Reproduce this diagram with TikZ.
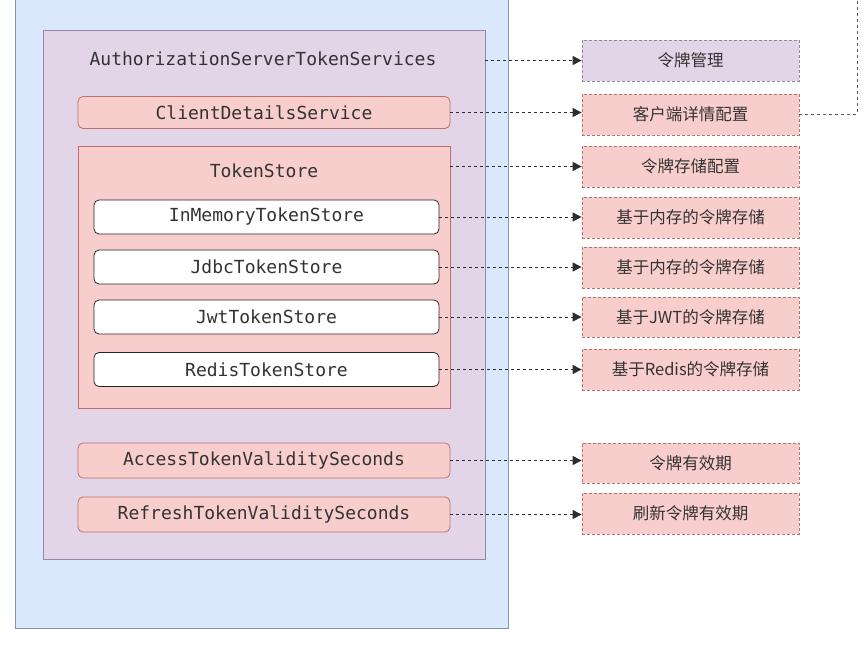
\documentclass[tikz,border=0pt]{standalone}
\usepackage{fontspec}
\newfontfamily\codefont{DejaVu Sans Mono}
\newfontfamily\cjk{Noto Sans CJK SC}
\usetikzlibrary{arrows.meta}
\definecolor{bluefill}{HTML}{DAE8FC}
\definecolor{bluedraw}{HTML}{7F95BA}
\definecolor{purfill}{HTML}{E1D5E7}
\definecolor{purdraw}{HTML}{9A85A8}
\definecolor{redfill}{HTML}{F8CECC}
\definecolor{reddraw}{HTML}{C0706C}
\definecolor{txt}{HTML}{333333}
\definecolor{lnk}{HTML}{2E2E2E}
\tikzset{
  box/.style={draw, line width=0.8pt, inner sep=0pt, text=txt},
  code/.style={font=\codefont\fontsize{18}{20}\selectfont},
  redround/.style={box, code, fill=redfill, draw=reddraw, rounded corners=5pt, minimum width=372pt, minimum height=32pt},
  whitebox/.style={box, code, fill=white, draw=black!85, rounded corners=5pt, minimum width=345pt, minimum height=34pt},
  rbox/.style={box, font=\cjk\fontsize{16.5}{18}\selectfont, fill=redfill, draw=reddraw!75!gray, dash pattern=on 3pt off 2pt, minimum width=217pt, minimum height=41pt},
  pbox/.style={rbox, fill=purfill, draw=purdraw!80!gray},
  link/.style={draw=lnk, line width=1pt, dash pattern=on 3pt off 3pt, -{Triangle[length=9pt,width=9pt]}},
  plainlink/.style={draw=gray!70!black, line width=1pt, dash pattern=on 3pt off 3pt},
}
\begin{document}
\begin{tikzpicture}[x=1pt,y=-1pt]
\useasboundingbox (0,0) rectangle (866,645);
\clip (0,0) rectangle (866,645);
% containers
\node[box, fill=bluefill, draw=bluedraw, minimum width=493pt, minimum height=643pt] (outer) at (261.5,306.5) {};
\node[box, fill=purfill, draw=purdraw, minimum width=442pt, minimum height=529pt] (asts) at (264,294.5) {};
\node[code, text=txt] (astslabel) at (263,59) {AuthorizationServerTokenServices};
\node[redround] (cds) at (264,112.5) {ClientDetailsService};
\node[box, fill=redfill, draw=reddraw, minimum width=372pt, minimum height=262pt] (ts) at (264,277) {};
\node[code, text=txt] (tslabel) at (264,171) {TokenStore};
\node[whitebox] (mem) at (266.5,217) {InMemoryTokenStore};
\node[whitebox] (jdbc) at (266.5,267) {JdbcTokenStore};
\node[whitebox] (jwt) at (266.5,317) {JwtTokenStore};
\node[whitebox] (redis) at (266.5,369.5) {RedisTokenStore};
\node[redround, minimum height=35pt] (acc) at (264,460.5) {AccessTokenValiditySeconds};
\node[redround, minimum height=35pt] (ref) at (264,514.5) {RefreshTokenValiditySeconds};
% right side
\node[pbox] (r1) at (690.5,60.5) {令牌管理};
\node[rbox] (r2) at (690.5,114.5) {客户端详情配置};
\node[rbox] (r3) at (690.5,166.5) {令牌存储配置};
\node[rbox] (r4) at (690.5,217.5) {基于内存的令牌存储};
\node[rbox] (r5) at (690.5,267.5) {基于内存的令牌存储};
\node[rbox, minimum height=40pt] (r6) at (690.5,317) {基于JWT的令牌存储};
\node[rbox] (r7) at (690.5,369.5) {基于Redis的令牌存储};
\node[rbox, minimum height=40pt] (r8) at (690.5,463) {令牌有效期};
\node[rbox] (r9) at (690.5,513.5) {刷新令牌有效期};
% connectors
\draw[link] (asts.east |- r1) -- (r1.west);
\draw[link] (cds.east) -- (cds.east -| r2.west);
\draw[link] (ts.east |- r3) -- (r3.west);
\draw[link] (mem.east) -- (mem.east -| r4.west);
\draw[link] (jdbc.east) -- (jdbc.east -| r5.west);
\draw[link] (jwt.east) -- (jwt.east -| r6.west);
\draw[link] (redis.east) -- (redis.east -| r7.west);
\draw[link] (acc.east) -- (acc.east -| r8.west);
\draw[link] (ref.east) -- (ref.east -| r9.west);
\coordinate (up) at (857,-2);
\draw[plainlink] (r2.east) -| (up);
\end{tikzpicture}
\end{document}
